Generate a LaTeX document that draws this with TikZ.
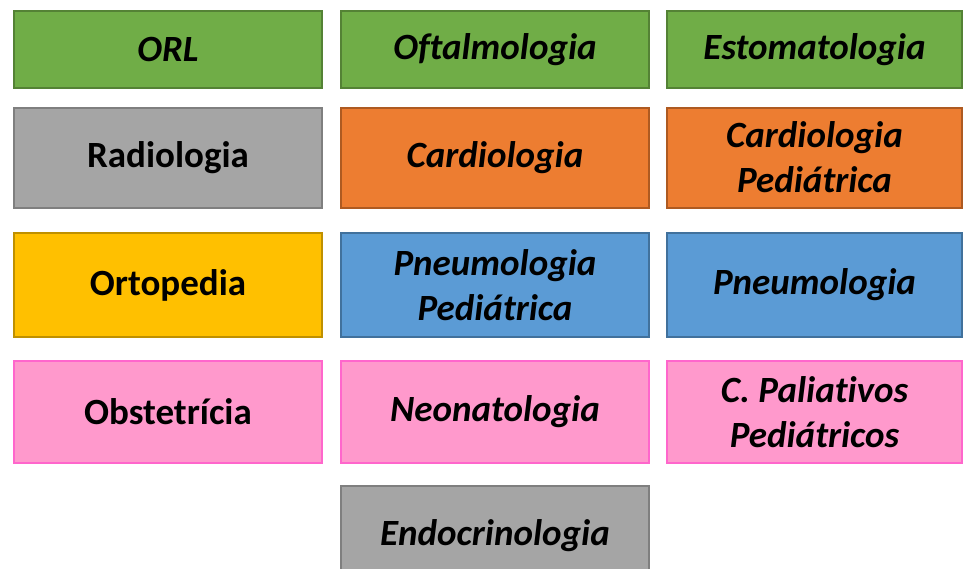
\documentclass[tikz,border=0pt]{standalone}
\usepackage{fontspec}
\setmainfont{Carlito}[Ligatures=NoCommon]
\usepackage{tikz}
\usetikzlibrary{positioning}

\definecolor{grn}{HTML}{70AD47}  \definecolor{grnline}{HTML}{548235}
\definecolor{gry}{HTML}{A5A5A5}  \definecolor{gryline}{HTML}{7F7F7F}
\definecolor{org}{HTML}{ED7D31}  \definecolor{orgline}{HTML}{AE5A21}
\definecolor{ylw}{HTML}{FFC000}  \definecolor{ylwline}{HTML}{BF9000}
\definecolor{blu}{HTML}{5B9BD5}  \definecolor{bluline}{HTML}{41719C}
\definecolor{pnk}{HTML}{FF99CC}  \definecolor{pnkline}{HTML}{FF66CC}

\begin{document}
\begin{tikzpicture}[x=1pt,y=-1pt,on grid,node distance=327pt,line width=2pt]
\tikzset{
  spec/.style={rectangle,draw,minimum width=308pt,align=center,inner sep=0pt,
    font=\fontsize{37}{45}\selectfont\bfseries\itshape},
  upright/.style={font=\fontsize{37}{45}\selectfont\bfseries},
  narrow/.style={minimum width=295pt},
  green/.style={spec,fill=grn,draw=grnline,minimum height=77pt},
  grey/.style={spec,fill=gry,draw=gryline,minimum height=100pt},
  orange/.style={spec,fill=org,draw=orgline,minimum height=100pt},
  yellow/.style={spec,fill=ylw,draw=ylwline,minimum height=104pt},
  blue/.style={spec,fill=blu,draw=bluline,minimum height=104pt},
  pink/.style={spec,fill=pnk,draw=pnkline,minimum height=102pt}
}
\useasboundingbox (0,0) rectangle (964,568);
% row 1
\node[green] (orl) at (168,49.5) {ORL};
\node[green] (oft) [right=of orl] {Oftalmologia};
\node[green,narrow] (esto) [right=319.5pt of oft] {Estomatologia};
% row 2
\node[grey,upright] (radio) at (168,157.5) {Radiologia};
\node[orange] (cardio) [right=of radio] {Cardiologia};
\node[orange,narrow] (cardped) [right=319.5pt of cardio] {Cardiologia\\Pediátrica};
% row 3
\node[yellow,upright] (orto) at (168,285) {Ortopedia};
\node[blue] (pneuped) [right=of orto] {Pneumologia\\Pediátrica};
\node[blue,narrow] (pneu) [right=319.5pt of pneuped] {Pneumologia};
% row 4
\node[pink,upright] (obst) at (168,412) {Obstetrícia};
\node[pink] (neo) [right=of obst] {Neonatologia};
\node[pink,narrow] (palia) [right=319.5pt of neo] {C. Paliativos\\Pediátricos};
% row 5
\node[grey] (endo) at (495,536) {Endocrinologia};
\end{tikzpicture}
\end{document}
